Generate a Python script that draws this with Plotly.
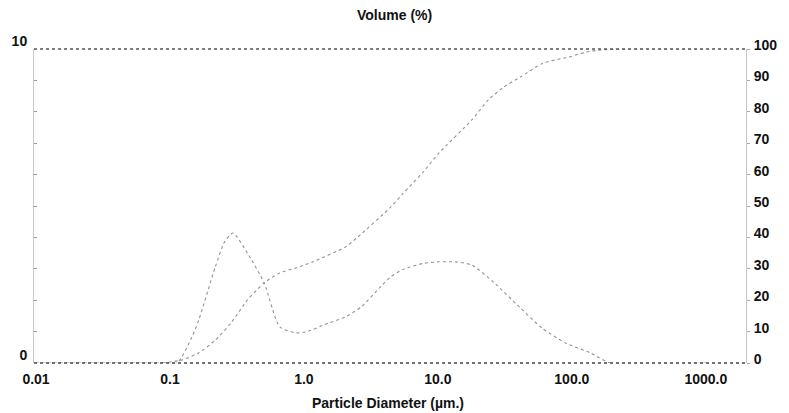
import plotly.graph_objects as go

# Frequency (volume %, left axis 0-10)
freq_x = [0.01, 0.09, 0.113, 0.146, 0.164, 0.218, 0.255, 0.295, 0.379, 0.505, 0.66, 0.877, 1.04,
          1.52, 2.03, 2.7, 3.77, 4.46, 5.5, 7.75, 10.0, 13.5, 17.9, 26.4, 40.7, 59.9, 89.5, 138, 194, 1000]
freq_y = [0, 0, 0, 0.83, 1.37, 3.06, 3.85, 4.14, 3.50, 2.55, 1.15, 0.96, 0.99,
          1.27, 1.46, 1.80, 2.45, 2.75, 2.98, 3.17, 3.22, 3.22, 3.12, 2.55, 1.78, 1.11, 0.64, 0.32, 0, 0]

# Cumulative undersize (%, right axis 0-100)
cum_x = [0.088, 0.124, 0.164, 0.218, 0.285, 0.379, 0.505, 0.66, 0.877, 1.16, 2.03, 2.52,
         4.46, 5.5, 7.75, 10.2, 17.9, 23.8, 31.0, 41.4, 61.0, 96.0, 127, 167, 264, 1000]
cum_y = [0, 1.0, 3.2, 7.3, 12.7, 20.1, 25.5, 28.7, 30.3, 32.2, 36.9, 40.1,
         49.7, 54.0, 60.8, 66.9, 77.4, 83.8, 87.9, 91.1, 95.5, 97.5, 99.0, 99.7, 100, 100]

x_tickvals = [0.01, 0.1, 1, 10, 100, 1000]
x_ticktext = ["0.01", "0.1", "1.0", "10.0", "100.0", "1000.0"]
right_ticks = [0, 10, 20, 30, 40, 50, 60, 70, 80, 90, 100]
left_ticks = [0, 10]

FONT = "Liberation Sans, Arial, sans-serif"
TXT = dict(size=14, family=FONT, color="#111", weight="bold")
LINE = dict(color="#939393", width=1.1, dash="dot", shape="spline", smoothing=0.6)

fig = go.Figure()
fig.add_trace(go.Scatter(x=freq_x, y=freq_y, mode="lines", yaxis="y",
                         line=LINE, showlegend=False, hoverinfo="skip"))
fig.add_trace(go.Scatter(x=cum_x, y=cum_y, mode="lines", yaxis="y2",
                         line=LINE, showlegend=False, hoverinfo="skip"))

fig.update_layout(
    width=789, height=413,
    margin=dict(l=32, r=27, t=49, b=50),
    paper_bgcolor="white", plot_bgcolor="white",
    font=dict(family=FONT, size=14, color="#111"),
    xaxis=dict(type="log", range=[-2.015, 3.3], tickvals=x_tickvals, ticktext=x_ticktext,
               showgrid=False, zeroline=False, showline=False, ticks="",
               ticklabelstandoff=6, tickfont=TXT),
    yaxis=dict(range=[0, 10], tickvals=left_ticks, ticktext=[str(v) for v in left_ticks],
               showgrid=False, zeroline=False, showline=True, linecolor="#c8c8c8", linewidth=1,
               ticks="inside", ticklen=3, tickcolor="#999", ticklabelshift=-8, ticklabelstandoff=3,
               minor=dict(dtick=1, ticks="inside", ticklen=3, tickcolor="#999"),
               tickfont=TXT),
    yaxis2=dict(range=[0, 100], overlaying="y", side="right", tickvals=right_ticks,
                showgrid=False, zeroline=False, showline=True, linecolor="#c8c8c8", linewidth=1,
                ticks="outside", ticklen=3, tickcolor="#aaa", ticklabelshift=-4, ticklabelstandoff=1,
                tickfont=TXT),
    shapes=[
        dict(type="line", xref="paper", yref="paper", x0=0, x1=1, y0=1, y1=1,
             line=dict(color="#555", width=1.5, dash="dot")),
        dict(type="line", xref="paper", yref="paper", x0=0, x1=1, y0=0, y1=0,
             line=dict(color="#444", width=1.5, dash="dot")),
    ],
    annotations=[
        dict(text="Volume (%)", xref="paper", yref="paper", x=0.507, y=1, yshift=34,
             yanchor="middle", showarrow=False, font=TXT),
        dict(text="Particle Diameter (µm.)", xref="paper", yref="paper", x=0.497, y=0, yshift=-40,
             yanchor="middle", showarrow=False, font=TXT),
    ],
)

fig.write_html("out.html")
